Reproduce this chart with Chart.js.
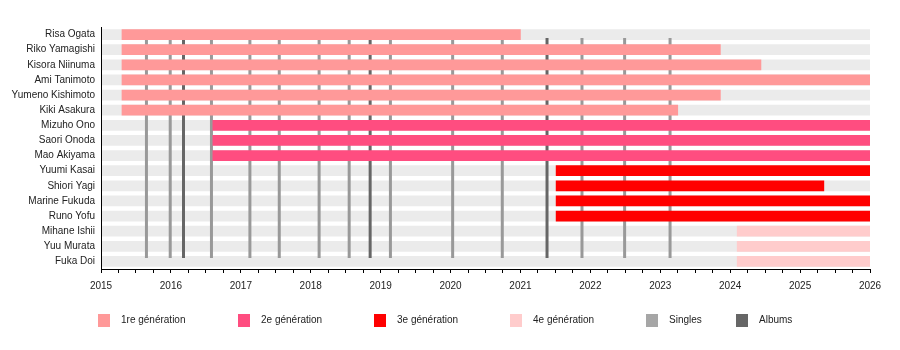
<!DOCTYPE html>
<html>
<head>
<meta charset="utf-8">
<script src="https://cdn.jsdelivr.net/npm/chart.js@4.4.1/dist/chart.umd.min.js"></script>
<style>
  html, body { margin: 0; padding: 0; background: #fff; }
</style>
</head>
<body>
<canvas id="timeline" width="900" height="350"></canvas>
<script>
// Mitglieder, von oben nach unten
const members = [
  'Risa Ogata', 'Riko Yamagishi', 'Kisora Niinuma', 'Ami Tanimoto', 'Yumeno Kishimoto', 'Kiki Asakura',
  'Mizuho Ono', 'Saori Onoda', 'Mao Akiyama',
  'Yuumi Kasai', 'Shiori Yagi', 'Marine Fukuda', 'Runo Yofu',
  'Mihane Ishii', 'Yuu Murata', 'Fuka Doi'
];
const generations = [1, 1, 1, 1, 1, 1, 2, 2, 2, 3, 3, 3, 3, 4, 4, 4];
const joined = [2015.3, 2015.3, 2015.3, 2015.3, 2015.3, 2015.3, 2016.6, 2016.6, 2016.6,
  2021.51, 2021.51, 2021.51, 2021.51, 2024.1, 2024.1, 2024.1];
const left = [2021.0, 2023.86, 2024.44, 2026, 2023.86, 2023.25, 2026, 2026, 2026,
  2026, 2025.34, 2026, 2026, 2026, 2026, 2026];

// Veröffentlichungen
const singles = [2015.65, 2015.99, 2016.58, 2017.13, 2017.55, 2018.12, 2018.55, 2019.14,
  2020.03, 2020.74, 2021.88, 2022.49, 2023.14];
const albums = [2016.18, 2018.85, 2021.38];

const genLabels = ['1re génération', '2e génération', '3e génération', '4e génération'];
const genColors = ['#ff9999', '#ff4d80', '#ff0000', '#ffcccc'];
const singleColor = '#999999';
const albumColor = '#666666';
const yearStart = 2015;
const yearEnd = 2026;

const FONT = '"Liberation Sans", Arial, sans-serif';

const datasets = [];

// graue Hintergrundbalken
datasets.push({
  label: 'bg',
  data: members.map(() => [yearStart, yearEnd]),
  backgroundColor: '#ebebeb',
  barThickness: 10,
  grouped: false,
  order: 3
});

// Generationen
genLabels.forEach((lab, g) => {
  datasets.push({
    label: lab,
    data: members.map((m, i) => generations[i] === g + 1 ? [joined[i], left[i]] : null),
    backgroundColor: genColors[g],
    barThickness: 10,
    grouped: false,
    order: 1
  });
});

// senkrechte Linien für Singles und Alben
function releaseLine(x, color) {
  return {
    type: 'line',
    indexAxis: 'x',
    data: [{ x: x, y: 0 }, { x: x, y: 1 }],
    xAxisID: 'x',
    yAxisID: 'yr',
    borderColor: color,
    borderWidth: 3,
    pointRadius: 0,
    order: 2
  };
}
singles.forEach(s => datasets.push(releaseLine(s, singleColor)));
albums.forEach(a => datasets.push(releaseLine(a, albumColor)));

// Legende unten
const legendPlugin = {
  id: 'bottomLegend',
  afterDraw(chart) {
    const ctx = chart.ctx;
    const items = genLabels.map((t, i) => ({ text: t, color: genColors[i] }))
      .concat([{ text: 'Singles', color: '#a6a6a6' }, { text: 'Albums', color: albumColor }]);
    const xs = [98, 238, 374, 510, 646, 736];
    ctx.save();
    ctx.font = '10px ' + FONT;
    ctx.textBaseline = 'middle';
    items.forEach((it, i) => {
      ctx.fillStyle = it.color;
      ctx.fillRect(xs[i], 314, 12, 13);
      ctx.fillStyle = '#222';
      ctx.fillText(it.text, xs[i] + 23, 320.5);
    });
    ctx.restore();
  }
};

new Chart(document.getElementById('timeline').getContext('2d'), {
  type: 'bar',
  data: { labels: members, datasets: datasets },
  options: {
    indexAxis: 'y',
    responsive: false,
    animation: false,
    devicePixelRatio: 1,
    layout: { padding: { top: 27, right: 30, bottom: 50, left: 0 } },
    plugins: {
      legend: { display: false },
      tooltip: { enabled: false }
    },
    scales: {
      x: {
        type: 'linear',
        min: yearStart,
        max: yearEnd,
        afterFit: s => { s.height = 31; },
        grid: { drawOnChartArea: false, drawTicks: true, tickLength: 4, color: '#000' },
        border: { display: true, color: '#000', width: 1, z: 1 },
        ticks: {
          stepSize: 0.25,
          autoSkip: false,
          maxRotation: 0,
          padding: 7,
          color: '#222',
          font: { size: 10, family: FONT },
          callback: v => Number.isInteger(v) ? String(v) : ''
        }
      },
      y: {
        type: 'category',
        afterFit: s => { s.width = 101; },
        grid: { display: false, drawTicks: false },
        border: { display: true, color: '#000', width: 1, z: 1 },
        ticks: { padding: 6, color: '#222', font: { size: 10, family: FONT } }
      },
      yr: {
        type: 'linear',
        axis: 'y',
        min: 0,
        max: 1,
        display: false
      }
    }
  },
  plugins: [legendPlugin]
});
</script>
</body>
</html>
